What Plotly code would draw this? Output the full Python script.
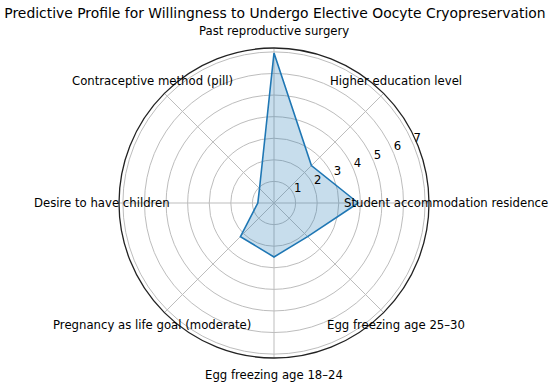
import math
import plotly.graph_objects as go

categories = [
    "Student accommodation residence",
    "Higher education level",
    "Past reproductive surgery",
    "Contraceptive method (pill)",
    "Desire to have children",
    "Pregnancy as life goal (moderate)",
    "Egg freezing age 18–24",
    "Egg freezing age 25–30",
]
values = [3.9, 2.45, 6.95, 0.95, 0.75, 2.2, 2.5, 2.2]
radial_ticks = [1, 2, 3, 4, 5, 6, 7]
title_text = "Predictive Profile for Willingness to Undergo Elective Oocyte Cryopreservation"

FONT = "DejaVu Sans"
W, H = 550, 385
RMAX = 7.18
CX, CY, RAD = 274, 203, 155      # polar area in pixels
LABEL_RAD = 172
RLABEL_ANGLE = 22.5

n = len(categories)
theta_deg = [360.0 * i / n for i in range(n)]

fig = go.Figure()
fig.add_trace(go.Scatterpolar(
    r=values + values[:1],
    theta=theta_deg + theta_deg[:1],
    mode="lines",
    fill="toself",
    fillcolor="rgba(31,119,180,0.25)",
    line=dict(color="#1f77b4", width=1.6),
    showlegend=False,
    hoverinfo="skip",
))
# radial tick labels (matplotlib style, along 22.5 deg)
fig.add_trace(go.Scatterpolar(
    r=radial_ticks,
    theta=[RLABEL_ANGLE] * len(radial_ticks),
    mode="text",
    text=[str(t) for t in radial_ticks],
    textposition="top right",
    textfont=dict(family=FONT, size=11.7, color="#000000"),
    cliponaxis=False,
    showlegend=False,
    hoverinfo="skip",
))

annotations = []
for i, cat in enumerate(categories):
    ang = math.radians(theta_deg[i])
    px = CX + LABEL_RAD * math.cos(ang)
    py = CY - LABEL_RAD * math.sin(ang)
    annotations.append(dict(
        text=cat, x=px / W, y=1 - py / H, xref="paper", yref="paper",
        xanchor="center", yanchor="middle", showarrow=False,
        font=dict(family=FONT, size=11.7, color="#000000"),
    ))

fig.update_layout(
    width=W, height=H,
    margin=dict(l=0, r=0, t=0, b=0, autoexpand=False),
    paper_bgcolor="white",
    plot_bgcolor="white",
    font=dict(family=FONT, size=12, color="#000000"),
    title=dict(text=title_text, x=0.5, xanchor="center", y=1 - 13 / H, yanchor="middle",
               font=dict(family=FONT, size=13.9, color="#000000")),
    annotations=annotations,
    polar=dict(
        domain=dict(x=[(CX - RAD) / W, (CX + RAD) / W], y=[1 - (CY + RAD) / H, 1 - (CY - RAD) / H]),
        bgcolor="white",
        angularaxis=dict(
            type="linear",
            thetaunit="degrees",
            rotation=0,
            direction="counterclockwise",
            tickmode="array",
            tickvals=theta_deg,
            showticklabels=False,
            ticks="",
            showline=True,
            linecolor="#222222",
            linewidth=1.3,
            showgrid=True,
            gridcolor="#bdbdbd",
            gridwidth=1,
        ),
        radialaxis=dict(
            range=[0, RMAX],
            tickvals=radial_ticks,
            showticklabels=False,
            showline=False,
            ticks="",
            showgrid=True,
            gridcolor="#bdbdbd",
            gridwidth=1,
        ),
    ),
)

fig.write_html("out.html", config={"displayModeBar": False},
               post_script="document.body.style.margin='0px';")
